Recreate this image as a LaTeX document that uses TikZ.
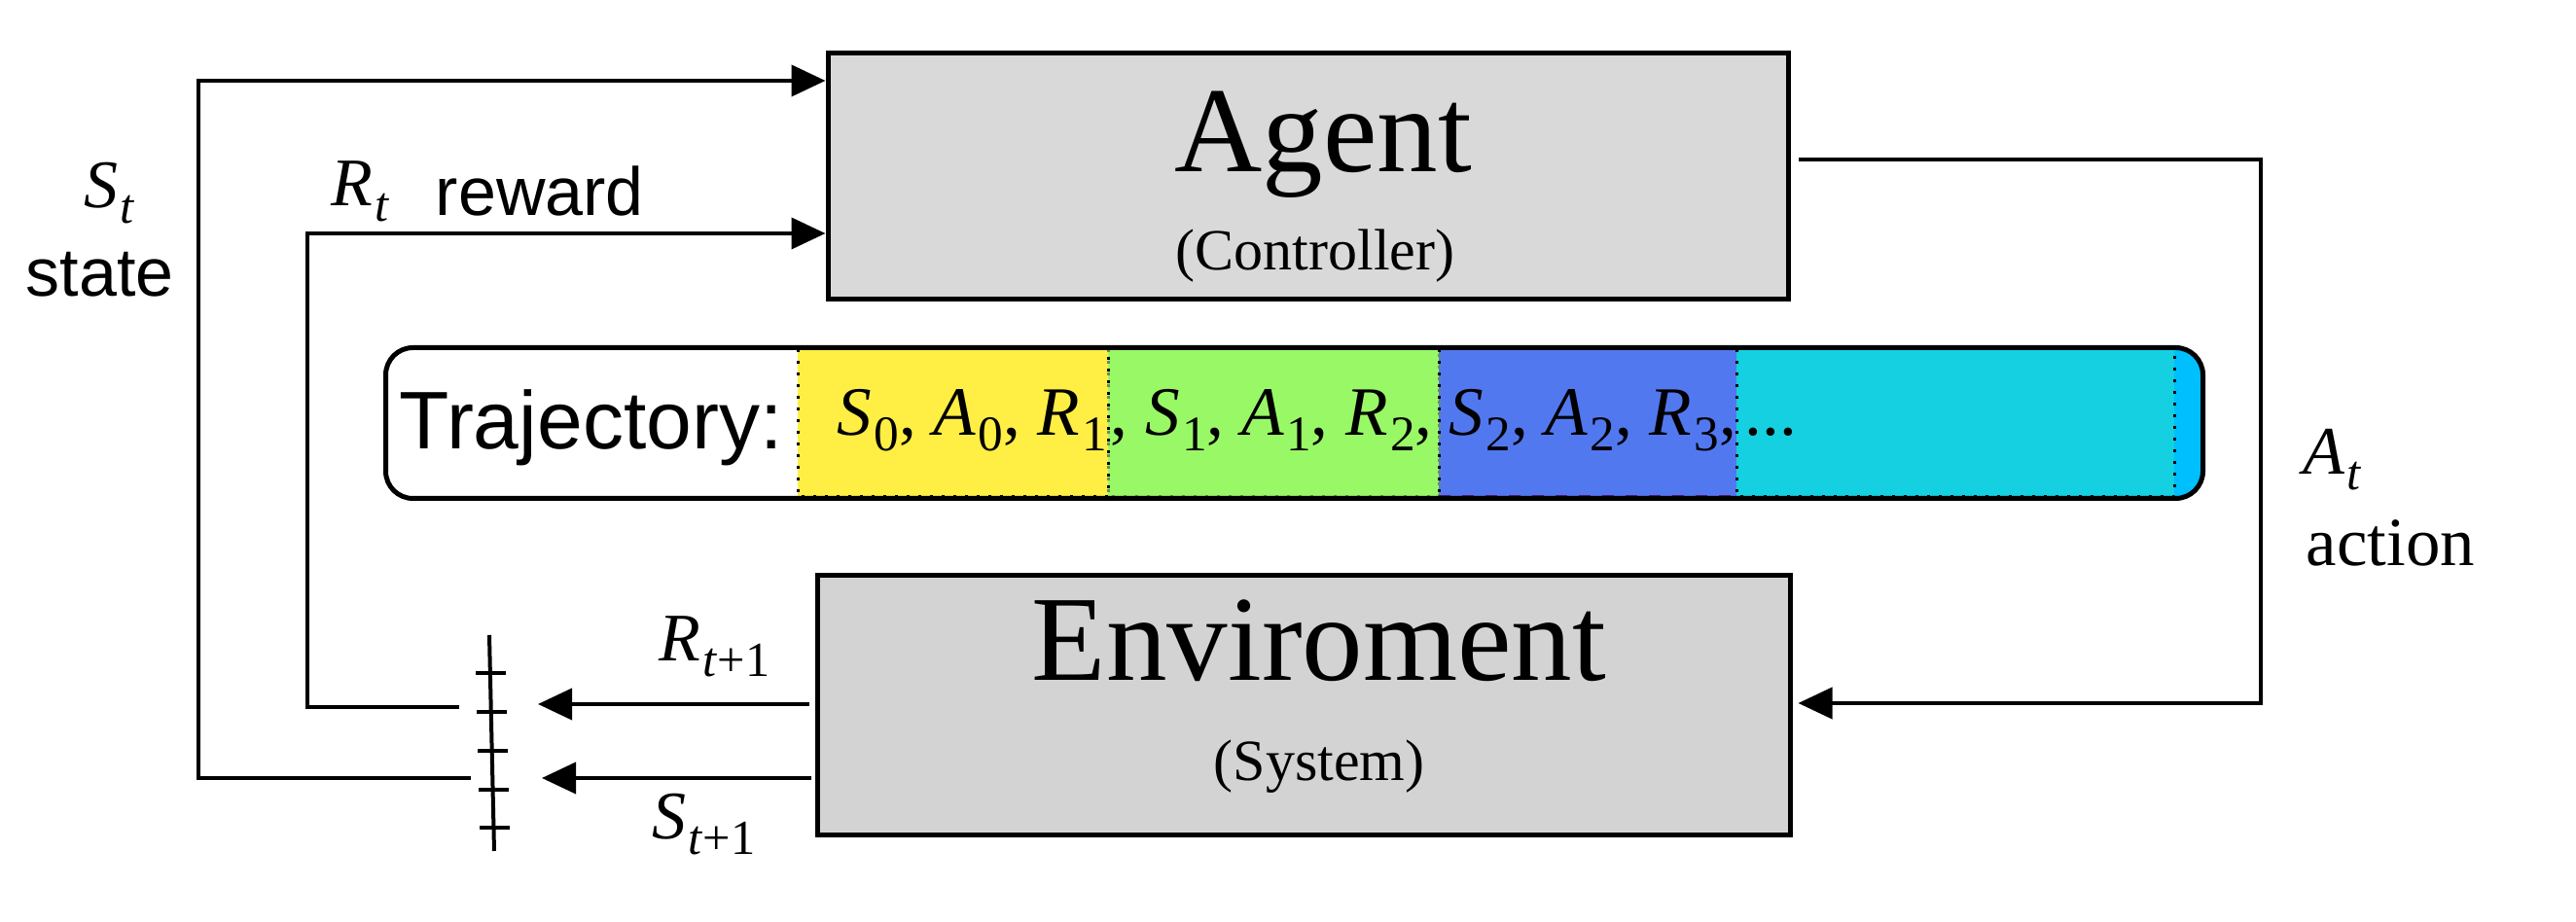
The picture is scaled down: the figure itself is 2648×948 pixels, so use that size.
\documentclass[tikz,border=0pt]{standalone}
\usepackage{fontspec}
\setmainfont{Liberation Serif}
\setsansfont{Liberation Sans}
\usetikzlibrary{arrows.meta,calc}
\definecolor{cyel}{HTML}{FFEE44}
\definecolor{cgrn}{HTML}{99F866}
\definecolor{cblu}{HTML}{5278F0}
\definecolor{ccya}{HTML}{14D0E0}
\definecolor{cend}{HTML}{00BFFF}
\definecolor{gagent}{HTML}{D9D9D9}
\definecolor{genv}{HTML}{D3D3D3}
\definecolor{cgborder}{HTML}{6E8B5A}
\definecolor{cpurp}{HTML}{5B1A7E}
\newcommand\mv[2]{\textit{#1}\kern0.03em\raisebox{-0.22em}{\scalebox{0.72}{#2}}}
\tikzset{
  boxa/.style={draw, line width=1.25pt, inner sep=0pt},
  lbl/.style={inner sep=0pt, anchor=base west},
  clbl/.style={inner sep=0pt, anchor=base},
  arr/.style={line width=1pt, -{Triangle[length=8.75pt,width=8pt]}},
  wire/.style={line width=1pt},
  dotb/.style={line width=0.75pt, dash pattern=on 0.75pt off 2.25pt},
  fbig/.style={font=\fontsize{31.25pt}{36pt}\selectfont},
  fsmall/.style={font=\fontsize{15pt}{18pt}\selectfont},
  fsans/.style={font=\sffamily\fontsize{17.5pt}{21pt}\selectfont},
  ftraj/.style={font=\sffamily\fontsize{21pt}{25pt}\selectfont},
  fmath/.style={font=\fontsize{17.5pt}{21pt}\selectfont},
  ftm/.style={font=\fontsize{17.8pt}{21pt}\selectfont},
  fact/.style={font=\fontsize{17.7pt}{21pt}\selectfont},
}
\begin{document}
\begin{tikzpicture}[x=0.25pt,y=-0.25pt]
\useasboundingbox (0,0) rectangle (2648,948);
\fill[white] (0,0) rectangle (2648,948);

% main boxes
\node[boxa, fill=gagent, minimum width=246.75pt, minimum height=63.25pt] (agent) at (1344.5,181.5) {};
\node[boxa, fill=genv, minimum width=250pt, minimum height=66.75pt] (env) at (1340,725.5) {};
\node[clbl, fbig] (agentT) at (1360,177) {Agent};
\node[clbl, fsmall] (agentS) at (1352,278) {(Controller)};
\node[clbl, fbig] (envT) at (1356,700) {Enviroment};
\node[clbl, fsmall] (envS) at (1356,803) {(System)};

% trajectory
\begin{scope}
  \clip[rounded corners=7pt] (396.5,357.5) rectangle (2264.5,512.5);
  \fill[cyel] (820,357.5) rectangle (1139,512.5);
  \fill[cgrn] (1139,357.5) rectangle (1479,512.5);
  \fill[cblu] (1479,357.5) rectangle (1785,512.5);
  \fill[ccya] (1785,357.5) rectangle (2235,512.5);
  \fill[cend] (2235,357.5) rectangle (2270,512.5);
\end{scope}
\draw[dotb, cgborder] (1139,359) rectangle (1479,511);
\draw[dotb] (820,359) rectangle (1139,511);
\draw[line width=0.75pt, dashed, cpurp] (1479,359) -- (1785,359) (1479,511) -- (1785,511);
\draw[dotb] (1479,359) -- (1479,511) (1785,359) -- (1785,511);
\draw[dotb] (1785,359) rectangle (2235,511);
\node[draw, line width=1.25pt, rounded corners=7pt, inner sep=0pt,
      minimum width=467pt, minimum height=38.75pt] (traj) at (1330.5,435) {};
\node[lbl, ftraj] (trajT) at (410,462) {Trajectory:};
\node[lbl, ftm] (t1) at (860,448) {\mv{S}{0}, \mv{A}{0}, \mv{R}{1}};
\node[lbl, ftm] (t2) at (1141,448) {, \mv{S}{1}, \mv{A}{1}, \mv{R}{2},};
\node[lbl, ftm] (t3) at (1489,448) {\mv{S}{2}, \mv{A}{2}, \mv{R}{3},};
\node[lbl, ftm] (t4) at (1793,448) {...};

% left loops
\coordinate (sEnd) at (484,800);
\coordinate (rEnd) at (472,727);
\coordinate (top1) at (204,83);
\coordinate (top2) at (316,240);
\draw[arr] (sEnd) -| (top1) -- (agent.west |- top1);
\draw[arr] (rEnd) -| (top2) -- (agent.west |- top2);

% arrows out of environment
\coordinate (rTip) at (553,724);
\coordinate (sTip) at (557,800);
\draw[arr, shorten <=1.5pt] (env.west |- rTip) -- (rTip);
\draw[arr, shorten <=1pt] (env.west |- sTip) -- (sTip);

% action loop
\coordinate (aC1) at (2324,164);
\coordinate (aC2) at (2324,723);
\draw[arr] ([xshift=2pt]agent.east |- aC1) -- (aC1) -- (aC2) -- ([xshift=1.5pt]env.east |- aC2);

% ladder
\coordinate (ladTop) at (503,653);
\coordinate (ladBot) at (508,875);
\draw[wire] (ladTop) -- (ladBot);
\draw[wire] (489,692) -- (520,692);
\draw[wire] (490,732) -- (521,732);
\draw[wire] (491,772) -- (522,772);
\draw[wire] (492,812) -- (523,812);
\draw[wire] (493,851) -- (524,851);

% labels
\node[lbl, fmath] (lSt) at (86,214) {\mv{S}{\textit{t}}};
\node[lbl, fsans] (lstate) at (26,305) {state};
\node[lbl, fmath] (lRt) at (340,212) {\mv{R}{\textit{t}}};
\node[lbl, fsans] (lreward) at (447,222) {reward};
\node[lbl, fmath] (lR1) at (677,680) {\mv{R}{\textit{t}+1}};
\node[lbl, fmath] (lS1) at (670,863) {\mv{S}{\textit{t}+1}};
\node[lbl, fmath] (lAt) at (2367,488) {\mv{A}{\textit{t}}};
\node[lbl, fact] (laction) at (2370,582) {action};
\end{tikzpicture}
\end{document}
